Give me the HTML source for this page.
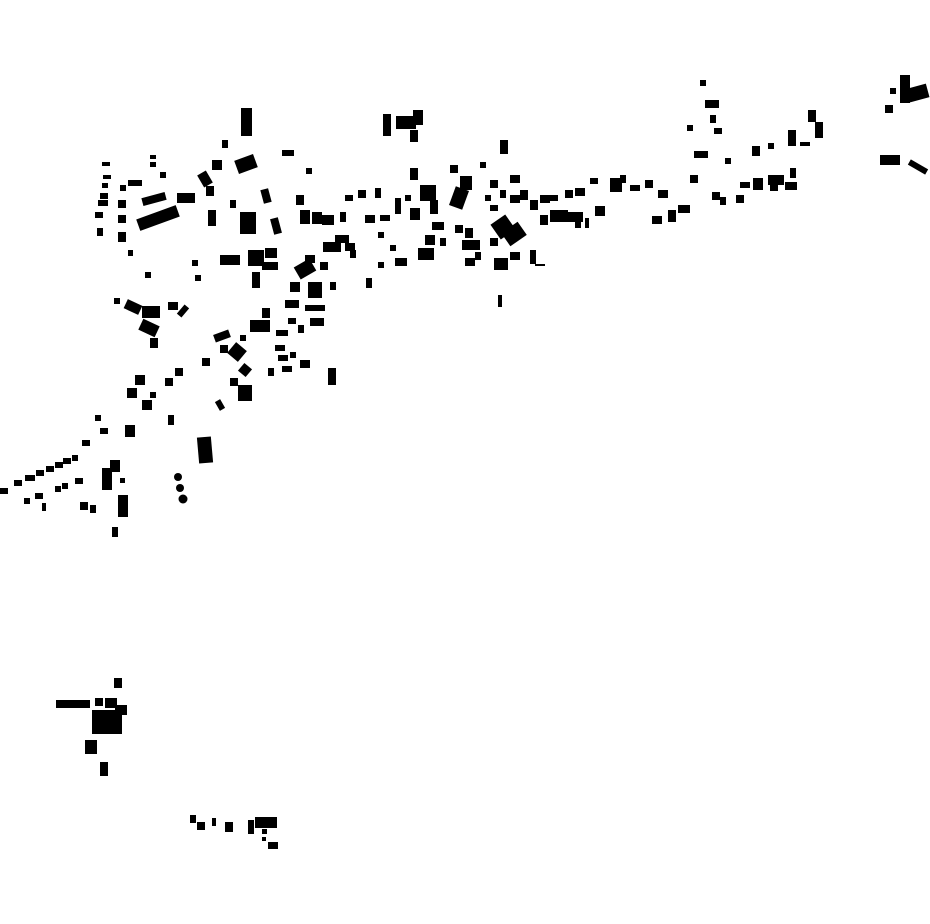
<!DOCTYPE html>
<html><head><meta charset="utf-8"><style>html,body{margin:0;padding:0;background:#fff}svg{display:block}</style></head>
<body>
<svg width="930" height="924" viewBox="0 0 930 924" xmlns="http://www.w3.org/2000/svg">
<g fill="#000">
<rect x="241" y="108" width="11" height="28"/>
<rect x="236" y="157" width="20" height="14" transform="rotate(-20 246 164)"/>
<rect x="212" y="160" width="10" height="10"/>
<rect x="200" y="172" width="10" height="14" transform="rotate(-30 205 179)"/>
<rect x="206" y="186" width="8" height="10"/>
<rect x="222" y="140" width="6" height="8"/>
<rect x="102" y="162" width="8" height="4"/><rect x="103" y="175" width="8" height="4"/><rect x="102" y="183" width="6" height="5"/>
<rect x="100" y="193" width="8" height="6"/><rect x="98" y="200" width="10" height="6"/><rect x="95" y="212" width="8" height="6"/><rect x="97" y="228" width="6" height="8"/>
<rect x="120" y="185" width="6" height="6"/><rect x="118" y="200" width="8" height="8"/><rect x="118" y="215" width="8" height="8"/><rect x="118" y="232" width="8" height="10"/>
<rect x="128" y="180" width="14" height="6"/><rect x="142" y="195" width="24" height="8" transform="rotate(-15 154 199)"/>
<rect x="137" y="212" width="42" height="12" transform="rotate(-20 158 218)"/>
<rect x="177" y="193" width="18" height="10"/>
<rect x="150" y="155" width="6" height="4"/><rect x="150" y="162" width="6" height="5"/><rect x="160" y="172" width="6" height="6"/>
<rect x="240" y="212" width="16" height="22"/><rect x="262" y="189" width="8" height="14" transform="rotate(-15 266 196)"/><rect x="272" y="218" width="8" height="16" transform="rotate(-15 276 226)"/>
<rect x="208" y="210" width="8" height="16"/><rect x="230" y="200" width="6" height="8"/>
<rect x="220" y="255" width="20" height="10"/><rect x="248" y="250" width="16" height="16"/><rect x="265" y="248" width="12" height="10"/><rect x="262" y="262" width="16" height="8"/><rect x="252" y="272" width="8" height="16"/>
<rect x="192" y="260" width="6" height="6"/><rect x="195" y="275" width="6" height="6"/><rect x="145" y="272" width="6" height="6"/><rect x="128" y="250" width="5" height="6"/>
<rect x="282" y="150" width="12" height="6"/><rect x="306" y="168" width="6" height="6"/>
<rect x="296" y="195" width="8" height="10"/><rect x="300" y="210" width="10" height="14"/><rect x="312" y="212" width="10" height="12"/><rect x="322" y="215" width="12" height="10"/>
<rect x="296" y="262" width="18" height="14" transform="rotate(-30 305 269)"/><rect x="305" y="255" width="10" height="8"/>
<rect x="290" y="282" width="10" height="10"/><rect x="308" y="282" width="14" height="16"/><rect x="330" y="282" width="6" height="8"/>
<rect x="285" y="300" width="14" height="8"/><rect x="305" y="305" width="20" height="6"/><rect x="310" y="318" width="14" height="8"/><rect x="288" y="318" width="8" height="6"/><rect x="298" y="325" width="6" height="8"/>
<rect x="250" y="320" width="20" height="12"/><rect x="262" y="308" width="8" height="10"/><rect x="276" y="330" width="12" height="6"/>
<rect x="214" y="332" width="16" height="8" transform="rotate(-20 222 336)"/><rect x="230" y="345" width="14" height="14" transform="rotate(40 237 352)"/><rect x="220" y="345" width="8" height="8"/><rect x="240" y="335" width="6" height="6"/><rect x="202" y="358" width="8" height="8"/>
<rect x="240" y="365" width="10" height="10" transform="rotate(40 245 370)"/><rect x="230" y="378" width="8" height="8"/><rect x="238" y="385" width="14" height="16"/><rect x="217" y="400" width="6" height="10" transform="rotate(-30 220 405)"/>
<rect x="275" y="345" width="10" height="6"/><rect x="278" y="355" width="10" height="6"/><rect x="290" y="352" width="6" height="6"/><rect x="282" y="366" width="10" height="6"/><rect x="268" y="368" width="6" height="8"/><rect x="300" y="360" width="10" height="8"/>
<rect x="328" y="368" width="8" height="17"/>
<rect x="114" y="298" width="6" height="6"/><rect x="125" y="302" width="16" height="10" transform="rotate(25 133 307)"/><rect x="142" y="306" width="18" height="12"/><rect x="140" y="322" width="18" height="12" transform="rotate(25 149 328)"/><rect x="150" y="338" width="8" height="10"/><rect x="168" y="302" width="10" height="8"/><rect x="180" y="305" width="6" height="12" transform="rotate(40 183 311)"/>
<rect x="175" y="368" width="8" height="8"/><rect x="165" y="378" width="8" height="8"/><rect x="135" y="375" width="10" height="10"/><rect x="127" y="388" width="10" height="10"/><rect x="142" y="400" width="10" height="10"/><rect x="150" y="392" width="6" height="6"/>
<rect x="168" y="415" width="6" height="10"/><rect x="95" y="415" width="6" height="6"/><rect x="100" y="428" width="8" height="6"/><rect x="125" y="425" width="10" height="12"/><rect x="82" y="440" width="8" height="6"/>
<rect x="198" y="437" width="14" height="26" transform="rotate(-5 205 450)"/>
<rect x="110" y="460" width="10" height="12"/><rect x="102" y="468" width="10" height="22"/><rect x="120" y="478" width="5" height="5"/><rect x="118" y="495" width="10" height="22"/><rect x="112" y="527" width="6" height="10"/>
<circle cx="178" cy="477" r="4"/><circle cx="180" cy="488" r="4"/><circle cx="183" cy="499" r="4.5"/>
<rect x="0" y="488" width="8" height="6"/><rect x="14" y="480" width="8" height="6"/><rect x="25" y="475" width="10" height="6"/><rect x="36" y="470" width="8" height="6"/><rect x="46" y="466" width="8" height="6"/><rect x="55" y="462" width="8" height="6"/><rect x="63" y="458" width="8" height="6"/><rect x="72" y="455" width="6" height="6"/>
<rect x="24" y="498" width="6" height="6"/><rect x="35" y="493" width="8" height="6"/><rect x="42" y="503" width="4" height="8"/><rect x="55" y="486" width="6" height="6"/><rect x="62" y="483" width="6" height="6"/><rect x="75" y="478" width="8" height="6"/><rect x="80" y="502" width="8" height="8"/><rect x="90" y="505" width="6" height="8"/>
<rect x="383" y="114" width="8" height="22"/><rect x="396" y="116" width="20" height="13"/><rect x="413" y="110" width="10" height="15"/><rect x="410" y="130" width="8" height="12"/>
<rect x="500" y="140" width="8" height="14"/>
<rect x="345" y="195" width="8" height="6"/><rect x="358" y="190" width="8" height="8"/><rect x="375" y="188" width="6" height="10"/><rect x="395" y="198" width="6" height="16"/><rect x="405" y="195" width="6" height="6"/><rect x="410" y="208" width="10" height="12"/>
<rect x="410" y="168" width="8" height="12"/><rect x="420" y="185" width="16" height="16"/><rect x="430" y="200" width="8" height="14"/><rect x="452" y="188" width="14" height="20" transform="rotate(20 459 198)"/><rect x="460" y="176" width="12" height="14"/><rect x="450" y="165" width="8" height="8"/><rect x="480" y="162" width="6" height="6"/>
<rect x="323" y="242" width="18" height="10"/><rect x="335" y="235" width="14" height="8"/><rect x="345" y="243" width="10" height="8"/><rect x="350" y="250" width="6" height="8"/><rect x="320" y="262" width="8" height="8"/><rect x="366" y="278" width="6" height="10"/>
<rect x="365" y="215" width="10" height="8"/><rect x="380" y="215" width="10" height="6"/><rect x="378" y="232" width="6" height="6"/><rect x="390" y="245" width="6" height="6"/><rect x="395" y="258" width="12" height="8"/><rect x="378" y="262" width="6" height="6"/><rect x="340" y="212" width="6" height="10"/>
<rect x="418" y="248" width="16" height="12"/><rect x="425" y="235" width="10" height="10"/><rect x="440" y="238" width="6" height="8"/><rect x="432" y="222" width="12" height="8"/><rect x="455" y="225" width="8" height="8"/>
<rect x="462" y="240" width="18" height="10"/><rect x="465" y="258" width="10" height="8"/><rect x="475" y="252" width="6" height="8"/><rect x="465" y="228" width="8" height="10"/>
<rect x="494" y="218" width="18" height="18" transform="rotate(-35 503 227)"/><rect x="504" y="226" width="20" height="16" transform="rotate(-35 514 234)"/><rect x="490" y="238" width="8" height="8"/>
<rect x="494" y="258" width="14" height="12"/><rect x="510" y="252" width="10" height="8"/><rect x="530" y="250" width="6" height="14"/><rect x="535" y="264" width="10" height="2"/>
<rect x="498" y="295" width="4" height="12"/>
<rect x="490" y="180" width="8" height="8"/><rect x="500" y="190" width="6" height="8"/><rect x="510" y="195" width="10" height="8"/><rect x="520" y="190" width="8" height="10"/><rect x="490" y="205" width="8" height="6"/><rect x="510" y="175" width="10" height="8"/><rect x="485" y="195" width="6" height="6"/>
<rect x="530" y="200" width="8" height="10"/><rect x="540" y="195" width="10" height="8"/><rect x="550" y="195" width="8" height="6"/><rect x="565" y="190" width="8" height="8"/><rect x="575" y="188" width="10" height="8"/>
<rect x="540" y="215" width="8" height="10"/><rect x="550" y="210" width="18" height="12"/><rect x="565" y="212" width="18" height="10"/><rect x="585" y="218" width="4" height="10"/><rect x="595" y="206" width="10" height="10"/><rect x="575" y="222" width="6" height="6"/>
<rect x="610" y="178" width="12" height="14"/><rect x="620" y="175" width="6" height="8"/><rect x="590" y="178" width="8" height="6"/><rect x="630" y="185" width="10" height="6"/><rect x="645" y="180" width="8" height="8"/><rect x="658" y="190" width="10" height="8"/>
<rect x="652" y="216" width="10" height="8"/><rect x="668" y="210" width="8" height="12"/><rect x="678" y="205" width="12" height="8"/>
<rect x="690" y="175" width="8" height="8"/><rect x="694" y="151" width="14" height="7"/><rect x="705" y="100" width="14" height="8"/><rect x="710" y="115" width="6" height="8"/><rect x="714" y="128" width="8" height="6"/><rect x="687" y="125" width="6" height="6"/><rect x="700" y="80" width="6" height="6"/><rect x="725" y="158" width="6" height="6"/>
<rect x="712" y="192" width="8" height="8"/><rect x="720" y="197" width="6" height="8"/><rect x="736" y="195" width="8" height="8"/><rect x="740" y="182" width="10" height="6"/><rect x="753" y="178" width="10" height="12"/><rect x="768" y="175" width="16" height="10"/><rect x="770" y="185" width="8" height="6"/><rect x="785" y="182" width="12" height="8"/><rect x="790" y="168" width="6" height="10"/>
<rect x="752" y="146" width="8" height="10"/><rect x="768" y="143" width="6" height="6"/><rect x="788" y="130" width="8" height="16"/><rect x="800" y="142" width="10" height="4"/><rect x="808" y="110" width="8" height="12"/><rect x="815" y="122" width="8" height="16"/>
<rect x="885" y="105" width="8" height="8"/><rect x="900" y="75" width="10" height="28"/><rect x="908" y="86" width="20" height="14" transform="rotate(-15 918 93)"/><rect x="890" y="88" width="6" height="6"/><rect x="880" y="155" width="20" height="10"/><rect x="908" y="164" width="20" height="6" transform="rotate(30 918 167)"/>
<rect x="56" y="700" width="34" height="8"/><rect x="95" y="698" width="8" height="8"/><rect x="114" y="678" width="8" height="10"/><rect x="105" y="698" width="12" height="10"/><rect x="92" y="710" width="30" height="24"/><rect x="115" y="705" width="12" height="10"/><rect x="85" y="740" width="12" height="14"/><rect x="100" y="762" width="8" height="14"/>
<rect x="190" y="815" width="6" height="8"/><rect x="197" y="822" width="8" height="8"/><rect x="212" y="818" width="4" height="8"/><rect x="225" y="822" width="8" height="10"/><rect x="248" y="820" width="6" height="14"/><rect x="255" y="817" width="22" height="11"/><rect x="262" y="829" width="5" height="5"/><rect x="262" y="837" width="4" height="4"/><rect x="268" y="842" width="10" height="7"/>
</g>
</svg>
</body></html>
